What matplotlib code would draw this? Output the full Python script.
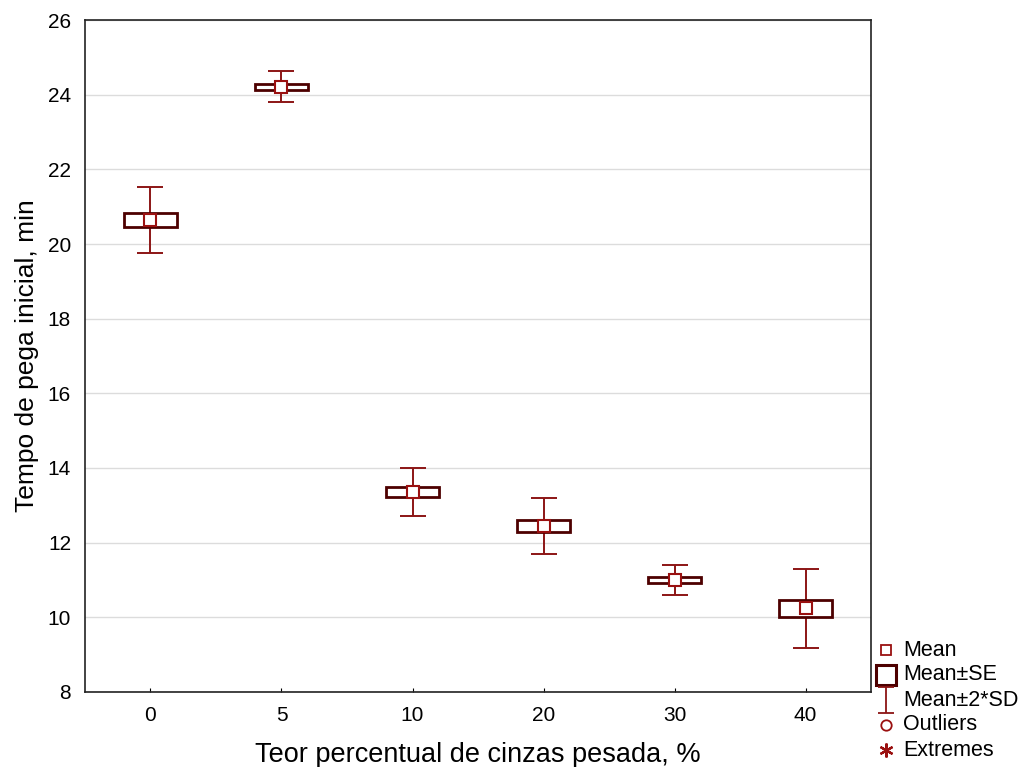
import numpy as np
import matplotlib.pyplot as plt
from matplotlib.patches import Rectangle
from matplotlib.lines import Line2D
from matplotlib.path import Path

plt.rcParams['font.family'] = ['Liberation Sans', 'DejaVu Sans']

# Data
categories = ['0', '5', '10', '20', '30', '40']
means = [20.65, 24.21, 13.36, 12.45, 11.00, 10.24]
se_low = [20.46, 24.13, 13.22, 12.29, 10.92, 10.01]
se_high = [20.84, 24.29, 13.50, 12.62, 11.09, 10.46]
sd_low = [19.76, 23.80, 12.72, 11.70, 10.61, 9.18]
sd_high = [21.54, 24.63, 14.00, 13.20, 11.41, 11.30]

box_col = '#4d0000'
wh_col = '#8c1515'
mean_col = '#9a1010'

fig = plt.figure(figsize=(10.25, 7.67), dpi=100)
ax = fig.add_axes([0.0829, 0.0978, 0.7669, 0.8761])

x = np.arange(len(categories))
means = np.array(means)

# whiskers (mean +- 2*SD)
ax.errorbar(x, means, yerr=[means - np.array(sd_low), np.array(sd_high) - means],
            fmt='none', ecolor=wh_col, elinewidth=1.4, capsize=9.5, capthick=1.4, zorder=2)

# boxes (mean +- SE)
for xi, lo, hi in zip(x, se_low, se_high):
    ax.add_patch(Rectangle((xi - 0.2, lo), 0.4, hi - lo, facecolor='white',
                           edgecolor=box_col, linewidth=2.0, zorder=3))

# means
ax.plot(x, means, 's', ms=8, mfc='white', mec=mean_col, mew=1.5, zorder=4)

ax.set_xlim(-0.5, 5.5)
ax.set_ylim(8, 26)
ax.set_yticks(np.arange(8, 27, 2))
ax.set_xticks(x)
ax.set_xticklabels(categories)
ax.yaxis.grid(True, color='#dcdcdc', linewidth=1)
ax.set_axisbelow(True)
ax.tick_params(axis='y', length=0, pad=10, labelsize=15)
ax.tick_params(axis='x', direction='in', length=3, pad=10, labelsize=15)
for s in ax.spines.values():
    s.set_linewidth(1.2)
    s.set_color('#222222')

ax.set_xlabel('Teor percentual de cinzas pesada, %', fontsize=19.5, labelpad=12)
ax.set_ylabel('Tempo de pega inicial, min', fontsize=19, labelpad=6)

# legend drawn beside the axes
sd_marker = Path([(0, -1), (0, 1), (-0.6, 1), (0.6, 1), (-0.6, -1), (0.6, -1)],
                 [Path.MOVETO, Path.LINETO, Path.MOVETO, Path.LINETO, Path.MOVETO, Path.LINETO])
legend_items = [
    ('Mean', dict(marker='s', ms=7.5, mfc='white', mec=mean_col, mew=1.3)),
    ('Mean\u00b1SE', dict(marker='s', ms=14, mfc='white', mec=box_col, mew=2.2)),
    ('Mean\u00b12*SD', dict(marker=sd_marker, ms=19, mfc='none', mec=wh_col, mew=1.3)),
    ('Outliers', dict(marker='o', ms=7.5, mfc='white', mec=mean_col, mew=1.3)),
    ('Extremes', dict(marker=(6, 2, 0), ms=10, mfc=mean_col, mec=mean_col, mew=1.6)),
]
lx, tx = 886 / 1025, 903 / 1025
for i, (label, style) in enumerate(legend_items):
    yy = 1 - (650 + 25 * i) / 767
    fig.add_artist(Line2D([lx], [yy], transform=fig.transFigure, linestyle='none', **style))
    fig.text(tx, yy, label, fontsize=15.5, va='center', ha='left')

fig.savefig('out.png', dpi=100)
